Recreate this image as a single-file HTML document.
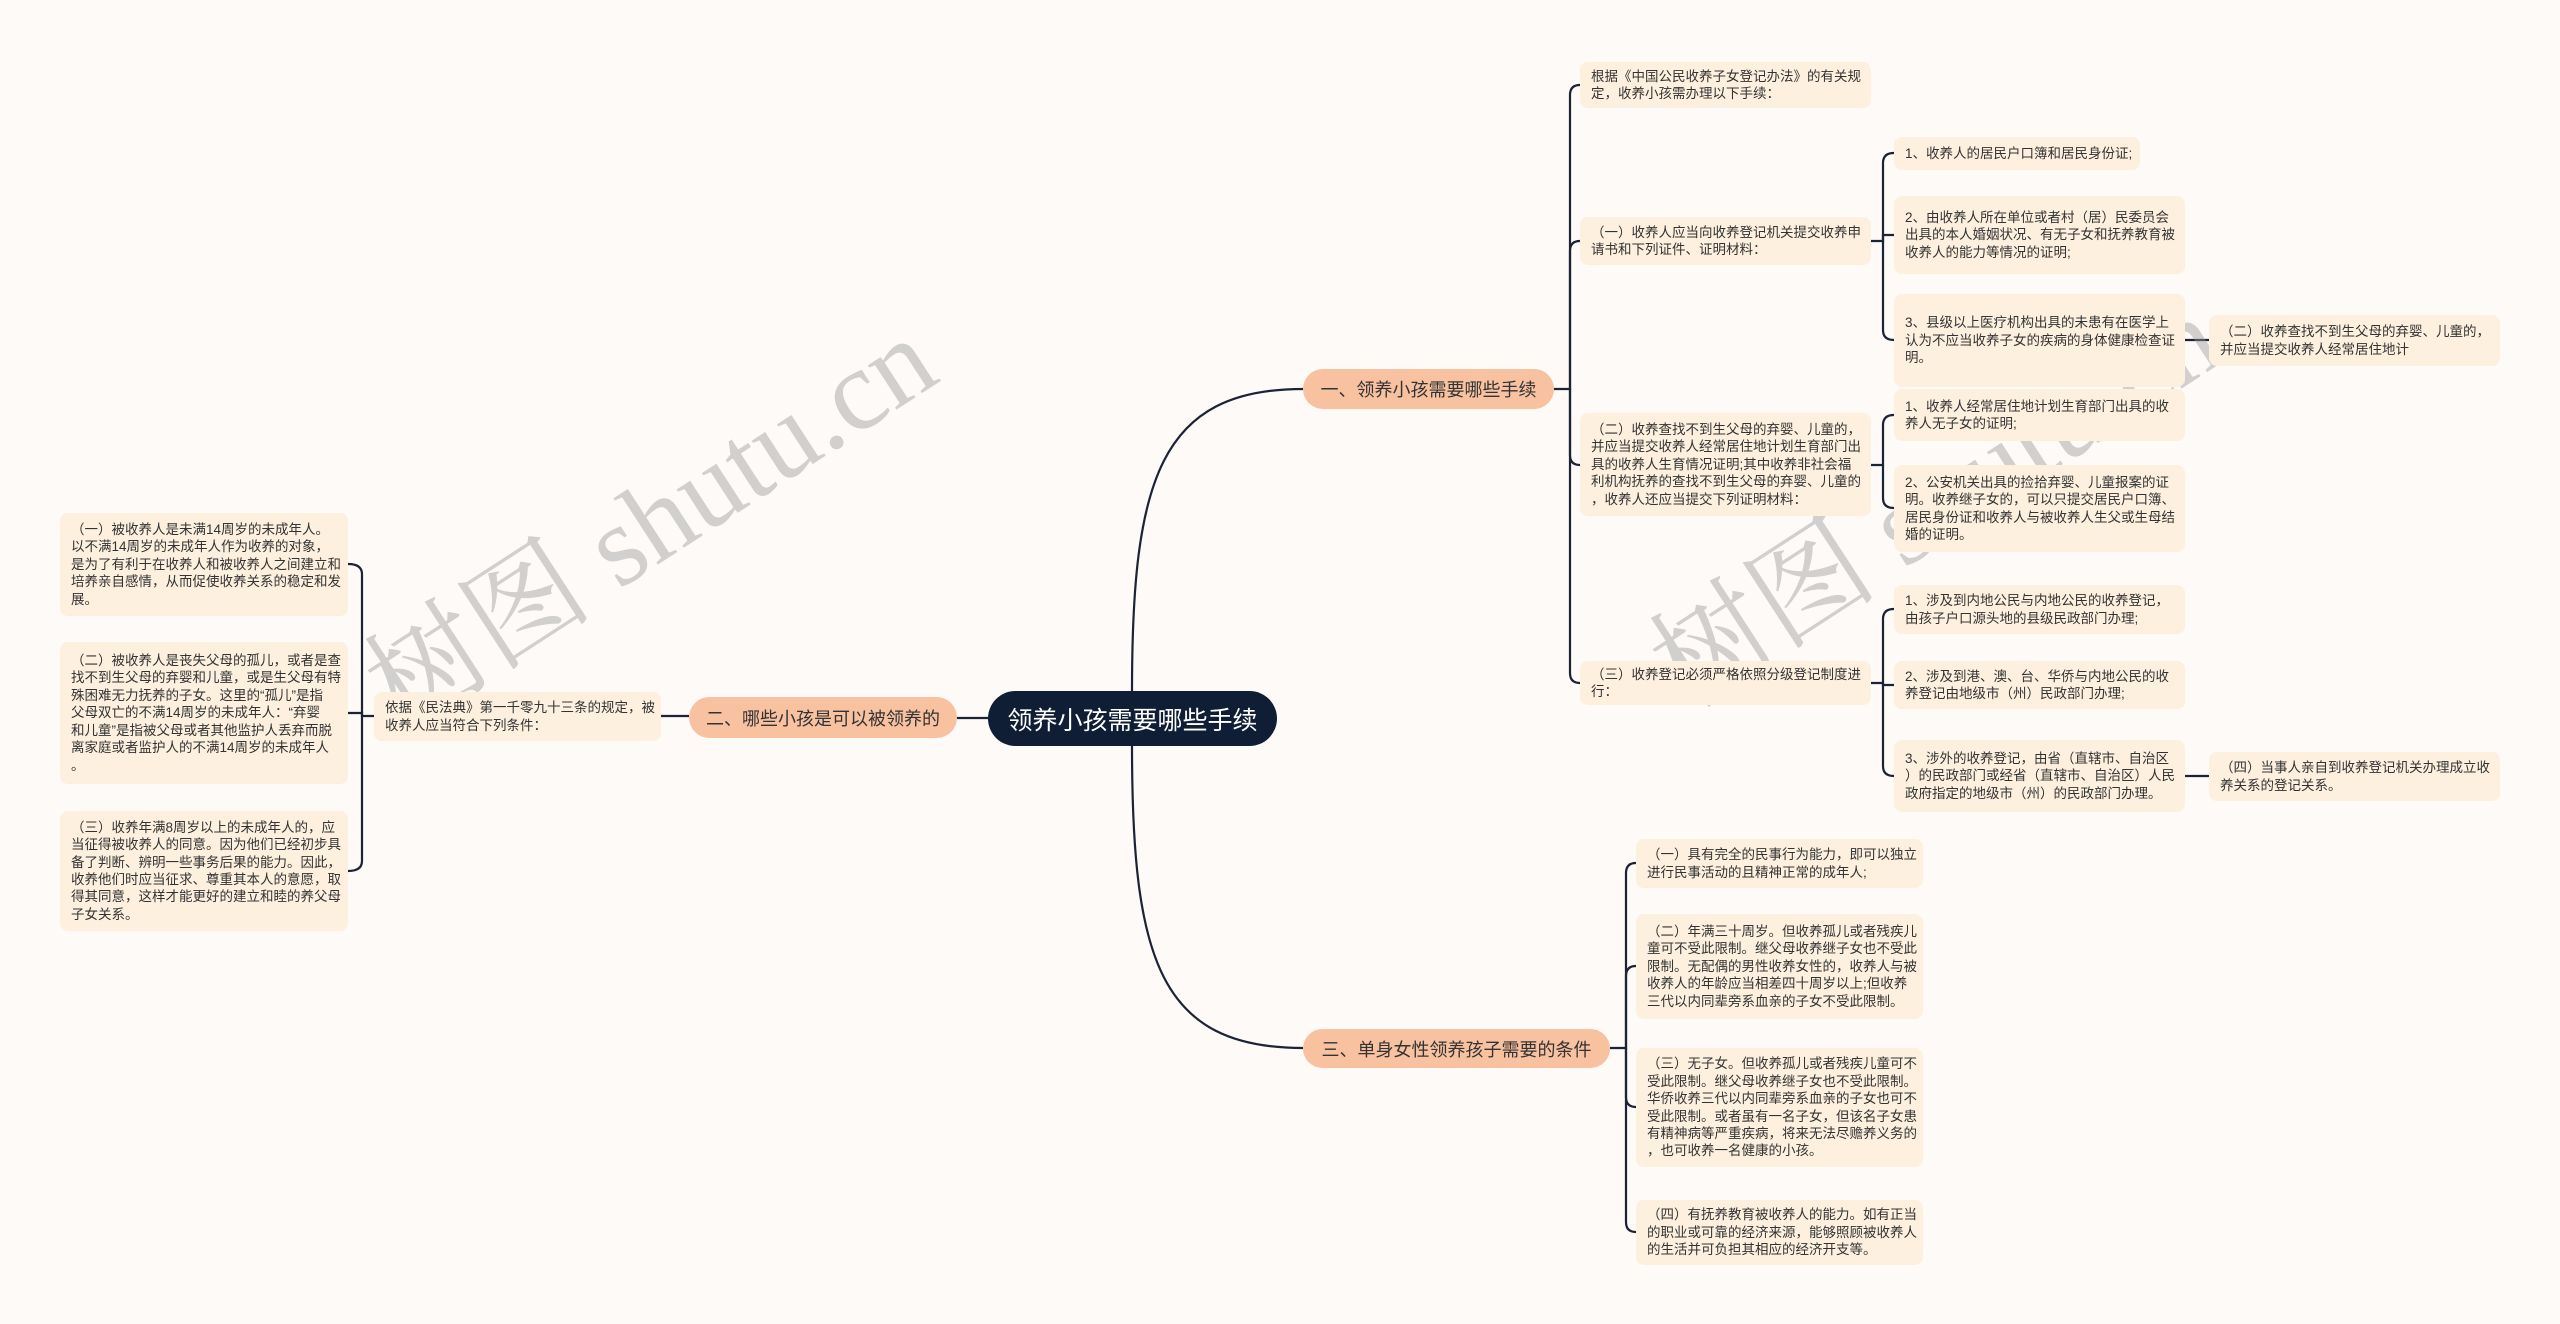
<!DOCTYPE html>
<html><head><meta charset="utf-8">
<style>
html,body{margin:0;padding:0}
body{width:2560px;height:1324px;position:relative;overflow:hidden;background:#fdfaf7;font-family:"Liberation Sans","Noto Sans CJK SC",sans-serif;}
.b{position:absolute;background:#fdf0df;border-radius:8px;color:#333;font-size:13.5px;line-height:17.4px;box-sizing:border-box;padding:0 8px 0 11px;display:flex;align-items:center;white-space:nowrap;}
.m{position:absolute;background:#f8c1a0;border-radius:22px;color:#333;font-size:18px;display:flex;align-items:center;justify-content:center;white-space:nowrap;}
.c{position:absolute;background:#0f1d35;border-radius:30px;color:#fff;font-size:25px;display:flex;align-items:center;justify-content:center;white-space:nowrap;}
.wm{position:absolute;font-family:"Liberation Serif","Noto Serif CJK SC",serif;font-size:115px;color:rgba(150,150,150,0.42);white-space:nowrap;transform:translate(-50%,-50%) rotate(-33deg);}
svg{position:absolute;left:0;top:0}
</style></head><body>
<svg width="2560" height="1324" fill="none" stroke="#1b2335" stroke-width="2.2">
<!-- center to branches -->
<path d="M1132 691 C1132 480 1160 389 1303 389"/>
<path d="M1132 746 C1132 960 1160 1048 1303 1048"/>
<path d="M988 718 H957"/>
<!-- branch1 -->
<path d="M1554 389 H1570 V95 Q1570 85 1580 85"/>
<path d="M1570 389 V251 Q1570 241 1580 241"/>
<path d="M1570 389 V455 Q1570 465 1580 465"/>
<path d="M1570 389 V673 Q1570 683 1580 683"/>
<!-- (一) children -->
<path d="M1871 241 H1883 V163 Q1883 153 1894 153"/>
<path d="M1883 241 V235 H1894"/>
<path d="M1883 241 V330 Q1883 340 1894 340"/>
<path d="M2185 340 H2209"/>
<!-- (二) children -->
<path d="M1871 465 H1883 V425 Q1883 415 1894 415"/>
<path d="M1883 465 V498 Q1883 508 1894 508"/>
<!-- (三) children -->
<path d="M1871 683 H1883 V619 Q1883 609 1894 609"/>
<path d="M1883 683 V685 H1894"/>
<path d="M1883 683 V766 Q1883 776 1894 776"/>
<path d="M2185 776 H2209"/>
<!-- branch3 -->
<path d="M1610 1048 H1626 V873 Q1626 863 1636 863"/>
<path d="M1626 1048 V976 Q1626 966 1636 966"/>
<path d="M1626 1048 V1097 Q1626 1107 1636 1107"/>
<path d="M1626 1048 V1222 Q1626 1232 1636 1232"/>
<!-- branch2 -->
<path d="M689 716 H661"/>
<path d="M374 716 H362 V574 Q362 564 348 564"/>
<path d="M362 716 V713 H348"/>
<path d="M362 716 V861 Q362 871 348 871"/>
</svg>

<div class="wm" style="left:645px;top:514px">树图 shutu.cn</div>
<div class="wm" style="left:1930px;top:493px">树图 shutu.cn</div>

<div class="c" style="left:988px;top:691px;width:289px;height:55px">领养小孩需要哪些手续</div>
<div class="m" style="left:1303px;top:369px;width:251px;height:40px">一、领养小孩需要哪些手续</div>
<div class="m" style="left:689px;top:697px;width:268px;height:41px">二、哪些小孩是可以被领养的</div>
<div class="m" style="left:1303px;top:1029px;width:307px;height:39px">三、单身女性领养孩子需要的条件</div>

<div class="b" style="left:1580px;top:62px;width:291px;height:46px">根据《中国公民收养子女登记办法》的有关规<br>定，收养小孩需办理以下手续：</div>
<div class="b" style="left:1580px;top:217px;width:291px;height:48px">（一）收养人应当向收养登记机关提交收养申<br>请书和下列证件、证明材料：</div>
<div class="b" style="left:1580px;top:413px;width:291px;height:103px">（二）收养查找不到生父母的弃婴、儿童的，<br>并应当提交收养人经常居住地计划生育部门出<br>具的收养人生育情况证明;其中收养非社会福<br>利机构抚养的查找不到生父母的弃婴、儿童的<br>，收养人还应当提交下列证明材料：</div>
<div class="b" style="left:1580px;top:661px;width:291px;height:44px">（三）收养登记必须严格依照分级登记制度进<br>行：</div>

<div class="b" style="left:1894px;top:137px;width:246px;height:33px">1、收养人的居民户口簿和居民身份证;</div>
<div class="b" style="left:1894px;top:196px;width:291px;height:78px">2、由收养人所在单位或者村（居）民委员会<br>出具的本人婚姻状况、有无子女和抚养教育被<br>收养人的能力等情况的证明;</div>
<div class="b" style="left:1894px;top:294px;width:291px;height:93px">3、县级以上医疗机构出具的未患有在医学上<br>认为不应当收养子女的疾病的身体健康检查证<br>明。</div>
<div class="b" style="left:2209px;top:315px;width:291px;height:51px">（二）收养查找不到生父母的弃婴、儿童的，<br>并应当提交收养人经常居住地计</div>
<div class="b" style="left:1894px;top:389px;width:291px;height:52px">1、收养人经常居住地计划生育部门出具的收<br>养人无子女的证明;</div>
<div class="b" style="left:1894px;top:465px;width:291px;height:87px">2、公安机关出具的捡拾弃婴、儿童报案的证<br>明。收养继子女的，可以只提交居民户口簿、<br>居民身份证和收养人与被收养人生父或生母结<br>婚的证明。</div>
<div class="b" style="left:1894px;top:585px;width:291px;height:49px">1、涉及到内地公民与内地公民的收养登记，<br>由孩子户口源头地的县级民政部门办理;</div>
<div class="b" style="left:1894px;top:661px;width:291px;height:48px">2、涉及到港、澳、台、华侨与内地公民的收<br>养登记由地级市（州）民政部门办理;</div>
<div class="b" style="left:1894px;top:740px;width:291px;height:72px">3、涉外的收养登记，由省（直辖市、自治区<br>）的民政部门或经省（直辖市、自治区）人民<br>政府指定的地级市（州）的民政部门办理。</div>
<div class="b" style="left:2209px;top:752px;width:291px;height:49px">（四）当事人亲自到收养登记机关办理成立收<br>养关系的登记关系。</div>

<div class="b" style="left:1636px;top:839px;width:287px;height:49px">（一）具有完全的民事行为能力，即可以独立<br>进行民事活动的且精神正常的成年人;</div>
<div class="b" style="left:1636px;top:914px;width:287px;height:105px">（二）年满三十周岁。但收养孤儿或者残疾儿<br>童可不受此限制。继父母收养继子女也不受此<br>限制。无配偶的男性收养女性的，收养人与被<br>收养人的年龄应当相差四十周岁以上;但收养<br>三代以内同辈旁系血亲的子女不受此限制。</div>
<div class="b" style="left:1636px;top:1048px;width:287px;height:119px">（三）无子女。但收养孤儿或者残疾儿童可不<br>受此限制。继父母收养继子女也不受此限制。<br>华侨收养三代以内同辈旁系血亲的子女也可不<br>受此限制。或者虽有一名子女，但该名子女患<br>有精神病等严重疾病，将来无法尽赡养义务的<br>，也可收养一名健康的小孩。</div>
<div class="b" style="left:1636px;top:1200px;width:287px;height:65px">（四）有抚养教育被收养人的能力。如有正当<br>的职业或可靠的经济来源，能够照顾被收养人<br>的生活并可负担其相应的经济开支等。</div>

<div class="b" style="left:374px;top:692px;width:287px;height:49px">依据《民法典》第一千零九十三条的规定，被<br>收养人应当符合下列条件：</div>
<div class="b" style="left:60px;top:513px;width:288px;height:103px">（一）被收养人是未满14周岁的未成年人。<br>以不满14周岁的未成年人作为收养的对象，<br>是为了有利于在收养人和被收养人之间建立和<br>培养亲自感情，从而促使收养关系的稳定和发<br>展。</div>
<div class="b" style="left:60px;top:642px;width:288px;height:142px">（二）被收养人是丧失父母的孤儿，或者是查<br>找不到生父母的弃婴和儿童，或是生父母有特<br>殊困难无力抚养的子女。这里的“孤儿”是指<br>父母双亡的不满14周岁的未成年人：“弃婴<br>和儿童”是指被父母或者其他监护人丢弃而脱<br>离家庭或者监护人的不满14周岁的未成年人<br>。</div>
<div class="b" style="left:60px;top:811px;width:288px;height:120px">（三）收养年满8周岁以上的未成年人的，应<br>当征得被收养人的同意。因为他们已经初步具<br>备了判断、辨明一些事务后果的能力。因此，<br>收养他们时应当征求、尊重其本人的意愿，取<br>得其同意，这样才能更好的建立和睦的养父母<br>子女关系。</div>
</body></html>
